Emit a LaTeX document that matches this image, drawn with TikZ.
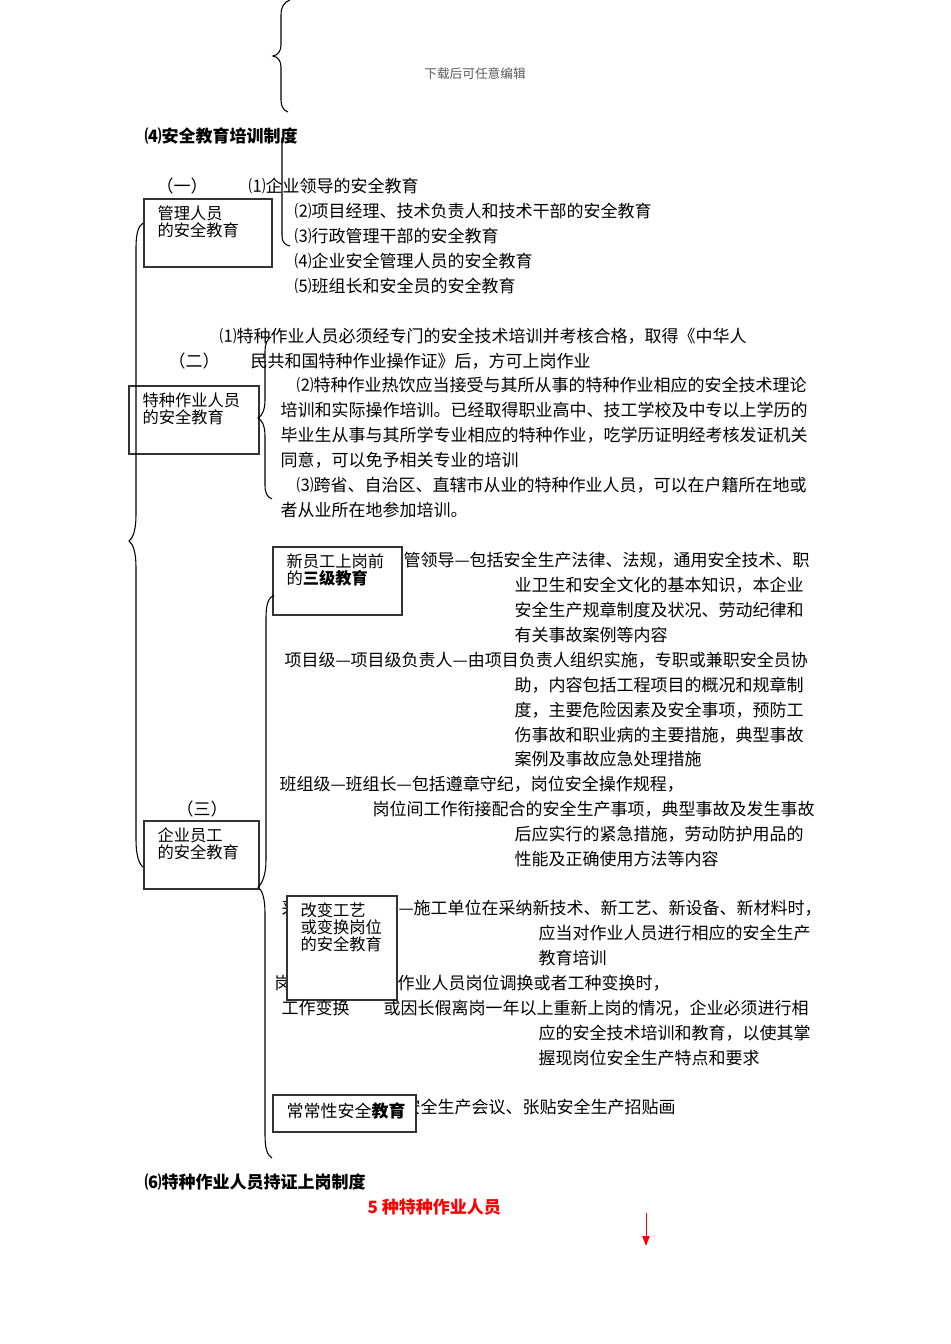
\documentclass[tikz,border=0pt]{standalone}
\usepackage{fontspec}
\setmainfont{Noto Sans CJK SC}
\usetikzlibrary{arrows.meta}
\tikzset{every picture/.style={line width=0.75pt}}
\tikzset{
  txt/.style={anchor=west, inner sep=0.75pt, font=\fontsize{12.75}{17}\selectfont},
  head/.style={anchor=west, inner sep=0.75pt, font=\fontsize{12.75}{17}\selectfont\bfseries},
  boxtxt/.style={anchor=north west, inner sep=0.75pt, align=left, font=\fontsize{12.2}{12.8}\selectfont},
  box/.style={draw=black!80, line width=1.1pt, fill=white},
  brace/.style={draw=black, line width=0.8pt},
}

\begin{document}
\begin{tikzpicture}[x=0.75pt,y=0.75pt,yscale=-1,xscale=1]
%set diagram left start at 0, and has height of 1344
\useasboundingbox (0,0) rectangle (950,1344);

% Text Node
\node[anchor=center, inner sep=0.75pt, text=black!65, font=\fontsize{9.5}{11}\selectfont] (wm) at (475,74) {下载后可任意编辑};
% Text Node
\node[head] (h4) at (143,136) {⑷安全教育培训制度};

% Text Node
\node[txt] (g1) at (155,186) {（一）};
\node[txt] (g1a) at (247,186) {⑴企业领导的安全教育};
\node[txt] (g1b) at (293,211) {⑵项目经理、技术负责人和技术干部的安全教育};
\node[txt] (g1c) at (293,236) {⑶行政管理干部的安全教育};
\node[txt] (g1d) at (293,261) {⑷企业安全管理人员的安全教育};
\node[txt] (g1e) at (293,286) {⑸班组长和安全员的安全教育};
%Shape: Rectangle [id:dp1]
\draw[box] (144,199) rectangle (272,267);
\node[boxtxt] (mgmt) at (156,204) {管理人员\\的安全教育};

% Text Node
\node[txt] (g2a) at (218,336) {⑴特种作业人员必须经专门的安全技术培训并考核合格，取得《中华人};
\node[txt] (g2) at (167,361) {（二）};
\node[txt] (g2b) at (249,361) {民共和国特种作业操作证》后，方可上岗作业};
\node[txt] (g2c) at (295,385) {⑵特种作业热饮应当接受与其所从事的特种作业相应的安全技术理论};
\node[txt] (g2d) at (279,410) {培训和实际操作培训。已经取得职业高中、技工学校及中专以上学历的};
\node[txt] (g2e) at (279,435) {毕业生从事与其所学专业相应的特种作业，吃学历证明经考核发证机关};
\node[txt] (g2f) at (279,460) {同意，可以免予相关专业的培训};
\node[txt] (g2g) at (295,485) {⑶跨省、自治区、直辖市从业的特种作业人员，可以在户籍所在地或};
\node[txt] (g2h) at (279,510) {者从业所在地参加培训。};
%Shape: Rectangle [id:dp2]
\draw[box] (129,386) rectangle (259,454);
\node[boxtxt] (spec) at (141,391) {特种作业人员\\的安全教育};

% Text Node
\node[txt] (g3a) at (402,560) {管领导—包括安全生产法律、法规，通用安全技术、职};
\node[txt] (g3b) at (513,585) {业卫生和安全文化的基本知识，本企业};
\node[txt] (g3c) at (513,610) {安全生产规章制度及状况、劳动纪律和};
\node[txt] (g3d) at (513,635) {有关事故案例等内容};
\node[txt] (g3e) at (283,660) {项目级—项目级负责人—由项目负责人组织实施，专职或兼职安全员协};
\node[txt] (g3f) at (513,685) {助，内容包括工程项目的概况和规章制};
\node[txt] (g3g) at (513,710) {度，主要危险因素及安全事项，预防工};
\node[txt] (g3h) at (513,735) {伤事故和职业病的主要措施，典型事故};
\node[txt] (g3i) at (513,759) {案例及事故应急处理措施};
\node[txt] (g3j) at (278,784) {班组级—班组长—包括遵章守纪，岗位安全操作规程，};
\node[txt] (g3k) at (371,809) {岗位间工作衔接配合的安全生产事项，典型事故及发生事故};
\node[txt] (g3l) at (513,834) {后应实行的紧急措施，劳动防护用品的};
\node[txt] (g3m) at (513,859) {性能及正确使用方法等内容};
\node[txt] (g3) at (175,809) {（三）};
%Shape: Rectangle [id:dp3]
\draw[box] (273,547) rectangle (402,615);
\node[boxtxt] (newst) at (285,552) {新员工上岗前\\的\textbf{三级教育}};
%Shape: Rectangle [id:dp4]
\draw[box] (144,821) rectangle (259,889);
\node[boxtxt] (staff) at (156,826) {企业员工\\的安全教育};

% Text Node
\node[txt] (g4x) at (280,908) {采};
\node[txt] (g4y) at (273,983) {岗};
%Shape: Rectangle [id:dp5]
\draw[box] (287,896) rectangle (397,1000);
\node[boxtxt] (chg) at (299,901) {改变工艺\\或变换岗位\\的安全教育};
\node[txt] (g4a) at (397,908) {—施工单位在采纳新技术、新工艺、新设备、新材料时，};
\node[txt] (g4b) at (537,933) {应当对作业人员进行相应的安全生产};
\node[txt] (g4c) at (537,958) {教育培训};
\node[txt] (g4d) at (396,983) {作业人员岗位调换或者工种变换时，};
\node[txt] (g4e) at (280,1008) {工作变换};
\node[txt] (g4f) at (382,1008) {或因长假离岗一年以上重新上岗的情况，企业必须进行相};
\node[txt] (g4g) at (537,1033) {应的安全技术培训和教育，以使其掌};
\node[txt] (g4h) at (537,1058) {握现岗位安全生产特点和要求};

% Text Node
\node[txt] (g5a) at (402,1107) {安全生产会议、张贴安全生产招贴画};
%Shape: Rectangle [id:dp6]
\draw[box] (273,1095) rectangle (416,1132);
\node[txt] (reg) at (285,1111) {常常性安全\textbf{教育}};

% Text Node
\node[head] (h6) at (143,1182) {⑹特种作业人员持证上岗制度};
\node[head, text=red] (five) at (366,1207) {5 种特种作业人员};

%Shape: Brace [id:ds1]
\draw[brace] (290,0) .. controls (284,2) and (281,7) .. (281,15) -- (281,45) .. controls (281,51) and (278,55) .. (273,56) .. controls (278,57) and (281,61) .. (281,67) -- (281,100) .. controls (281,106) and (283,110) .. (288,112);
%Shape: Brace [id:ds2]
\draw[brace] (282,138) -- (282,236) .. controls (282,242) and (285,245) .. (290,246);
%Shape: Brace [id:ds3]
\draw[brace] (143,223) .. controls (138,226) and (136,235) .. (136,247) -- (136,515) .. controls (136,530) and (133,538) .. (129,541) .. controls (133,544) and (136,552) .. (136,567) -- (136,840) .. controls (136,855) and (139,864) .. (143,867);
%Shape: Brace [id:ds4]
\draw[brace] (271,337) .. controls (267,339) and (265,344) .. (265,352) -- (265,400) .. controls (265,410) and (262,416) .. (258,418) .. controls (262,420) and (265,426) .. (265,436) -- (265,485) .. controls (265,493) and (267,497) .. (272,499);
%Shape: Brace [id:ds5]
\draw[brace] (274,595) .. controls (268,598) and (266,605) .. (266,618) -- (266,860) .. controls (266,875) and (262,884) .. (258,887) .. controls (262,890) and (265,898) .. (265,913) -- (265,1135) .. controls (265,1148) and (267,1155) .. (272,1158);

%Straight Lines [id:da1]
\coordinate (arrS) at (646,1213);
\coordinate (arrE) at (646,1246);
\draw[red, -{Triangle[length=7.5pt,width=5.5pt]}] (arrS) -- (arrE);

\end{tikzpicture}
\end{document}
